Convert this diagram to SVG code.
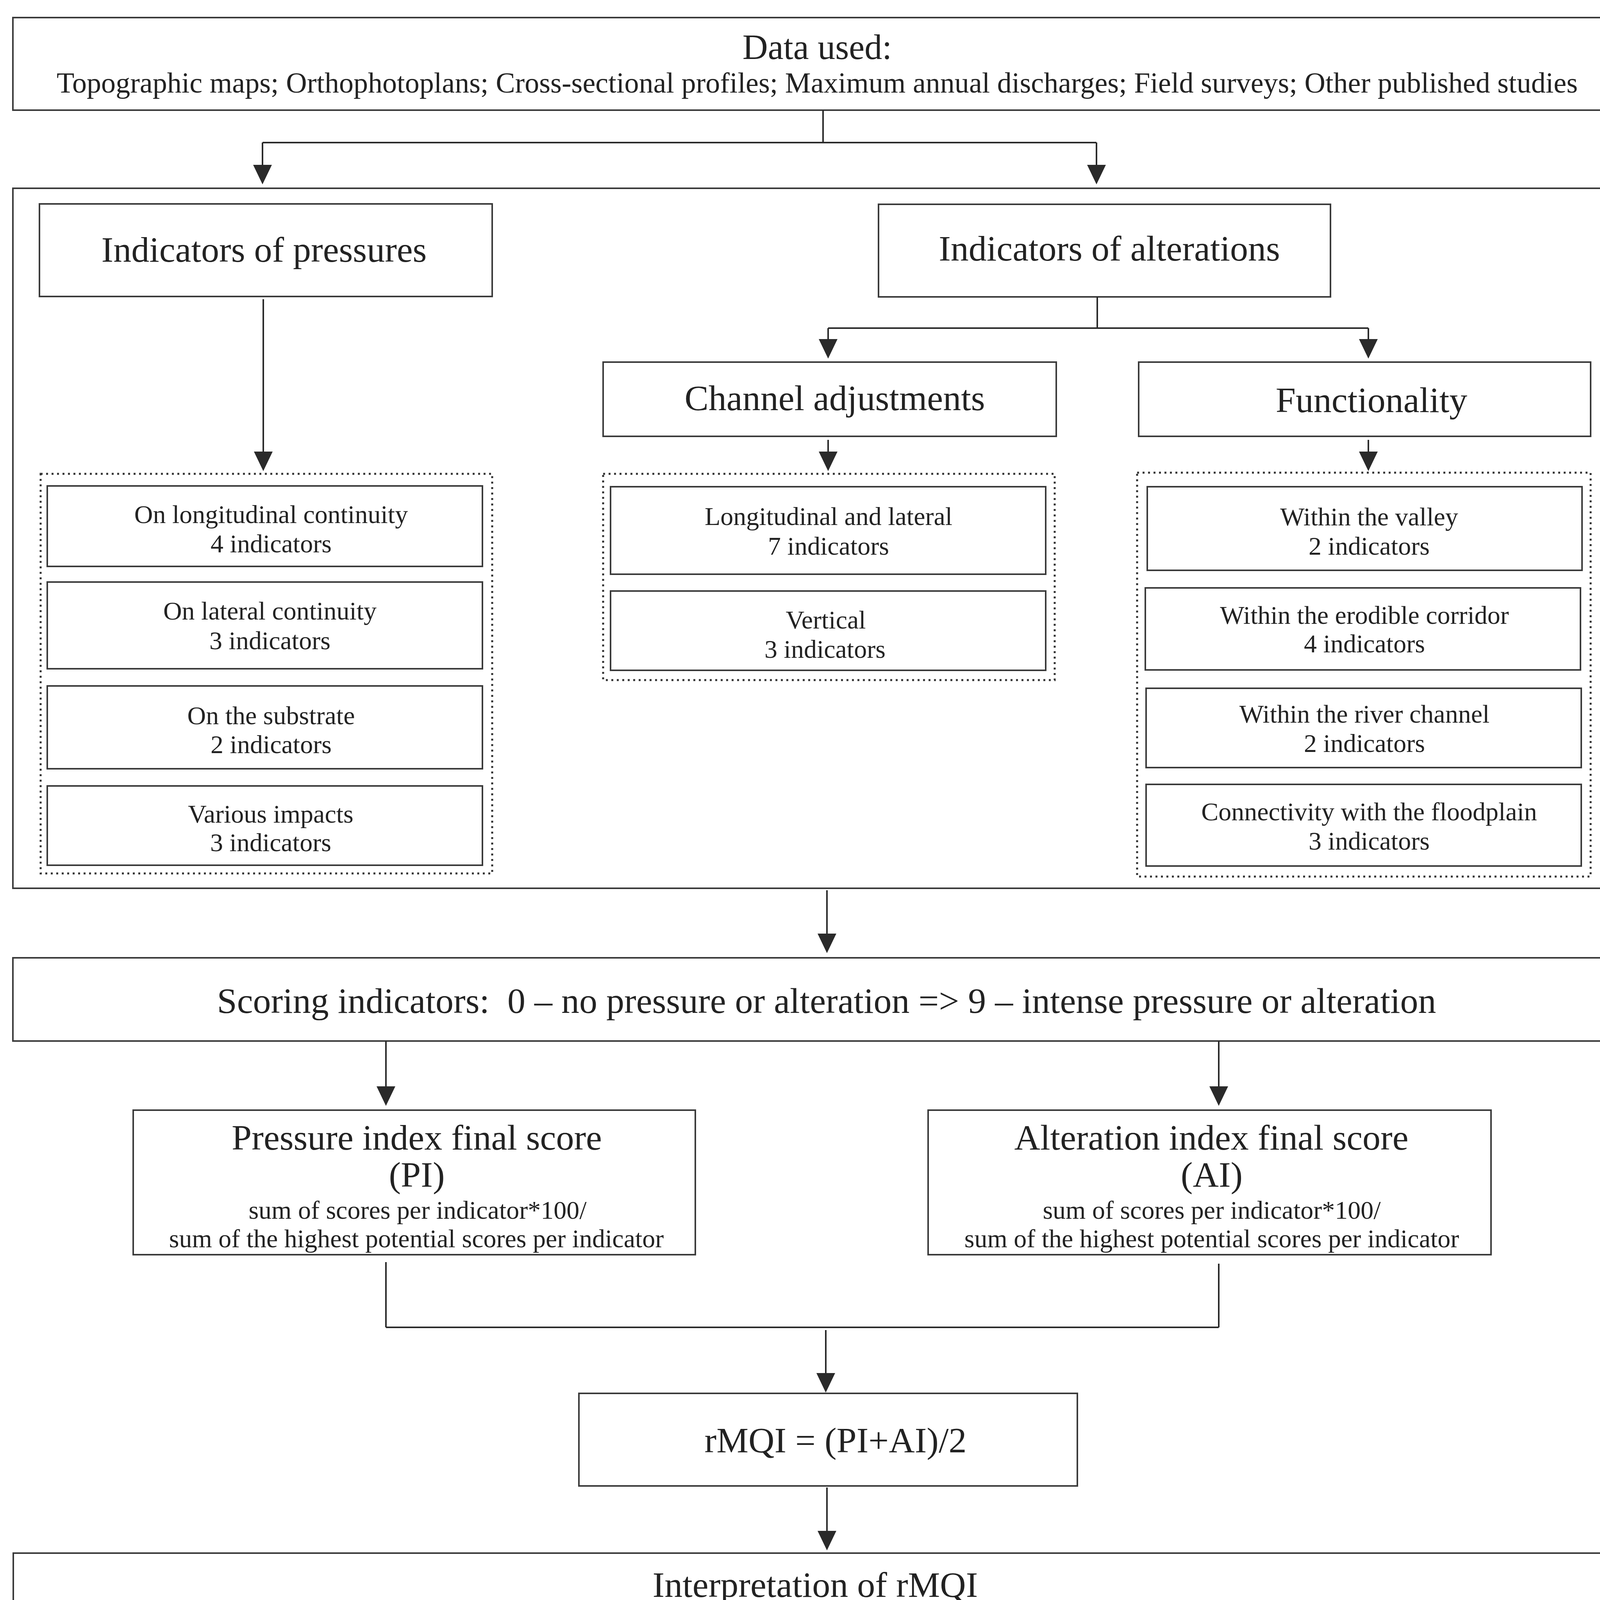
<svg xmlns="http://www.w3.org/2000/svg" width="4153" height="4284" viewBox="0 0 4153 4284">
<style>
.box{fill:#fff;stroke:#3a3a3a;stroke-width:4}
.cont{fill:none;stroke:#3a3a3a;stroke-width:4}
.dot{fill:none;stroke:#333;stroke-width:5;stroke-dasharray:5 9}
.ln{fill:none;stroke:#2a2a2a;stroke-width:4}
.t{font-family:"Liberation Serif","Times New Roman",serif;fill:#222;text-anchor:middle}
.b{font-size:92px}
.m{font-size:74px}
.s{font-size:66px}
</style>
<defs>
<marker id="arr" viewBox="0 0 50 48" markerWidth="50" markerHeight="48" refX="30" refY="24" orient="auto" markerUnits="userSpaceOnUse">
<path d="M0,0 L50,24 L0,48 Z" fill="#2a2a2a"/>
</marker>
</defs>
<rect width="4153" height="4284" fill="#fff"/>

<g id="container">
<rect class="cont" x="33" y="482" width="4094" height="1792"/>
</g>

<g id="data-used">
<rect class="box" x="33" y="45" width="4099" height="237"/>
<text class="t" x="2092" y="151" font-size="90">Data used:</text>
<text class="t m" x="2092" y="237" textLength="3894">Topographic maps; Orthophotoplans; Cross-sectional profiles; Maximum annual discharges; Field surveys; Other published studies</text>
</g>

<g id="pressures">
<rect class="box" x="101" y="522" width="1159" height="237"/>
<text class="t b" x="676" y="670">Indicators of pressures</text>
</g>

<g id="pressures-group">
<rect class="dot" x="104" y="1213" width="1156" height="1023"/>
</g>
<g id="p1">
<rect class="box" x="121" y="1244" width="1114" height="206"/>
<text class="t s" x="694" y="1339">On longitudinal continuity</text>
<text class="t s" x="694" y="1414">4 indicators</text>
</g>
<g id="p2">
<rect class="box" x="121" y="1490" width="1114" height="222"/>
<text class="t s" x="691" y="1586">On lateral continuity</text>
<text class="t s" x="691" y="1662">3 indicators</text>
</g>
<g id="p3">
<rect class="box" x="121" y="1756" width="1114" height="212"/>
<text class="t s" x="694" y="1854">On the substrate</text>
<text class="t s" x="694" y="1928">2 indicators</text>
</g>
<g id="p4">
<rect class="box" x="121" y="2012" width="1114" height="203"/>
<text class="t s" x="693" y="2106">Various impacts</text>
<text class="t s" x="693" y="2179">3 indicators</text>
</g>

<g id="alterations">
<rect class="box" x="2249" y="523" width="1157" height="237"/>
<text class="t b" x="2840" y="667">Indicators of alterations</text>
</g>

<g id="channel">
<rect class="box" x="1544" y="927" width="1160" height="190"/>
<text class="t b" x="2137" y="1050">Channel adjustments</text>
</g>
<g id="channel-group">
<rect class="dot" x="1544" y="1213" width="1156" height="528"/>
</g>
<g id="c1">
<rect class="box" x="1563" y="1246" width="1114" height="224"/>
<text class="t s" x="2121" y="1344">Longitudinal and lateral</text>
<text class="t s" x="2121" y="1420">7 indicators</text>
</g>
<g id="c2">
<rect class="box" x="1563" y="1513" width="1114" height="203"/>
<text class="t s" x="2114" y="1609">Vertical</text>
<text class="t s" x="2112" y="1684">3 indicators</text>
</g>

<g id="functionality">
<rect class="box" x="2915" y="927" width="1157" height="190"/>
<text class="t b" x="3511" y="1055">Functionality</text>
</g>
<g id="functionality-group">
<rect class="dot" x="2911" y="1210" width="1161" height="1034"/>
</g>
<g id="f1">
<rect class="box" x="2937" y="1246" width="1113" height="214"/>
<text class="t s" x="3505" y="1345">Within the valley</text>
<text class="t s" x="3505" y="1420">2 indicators</text>
</g>
<g id="f2">
<rect class="box" x="2932" y="1505" width="1114" height="210"/>
<text class="t s" x="3493" y="1597">Within the erodible corridor</text>
<text class="t s" x="3493" y="1670">4 indicators</text>
</g>
<g id="f3">
<rect class="box" x="2934" y="1762" width="1114" height="203"/>
<text class="t s" x="3493" y="1850">Within the river channel</text>
<text class="t s" x="3493" y="1925">2 indicators</text>
</g>
<g id="f4">
<rect class="box" x="2934" y="2008" width="1114" height="209"/>
<text class="t s" x="3505" y="2100">Connectivity with the floodplain</text>
<text class="t s" x="3505" y="2175">3 indicators</text>
</g>

<g id="scoring">
<rect class="box" x="33" y="2452" width="4094" height="213"/>
<text class="t b" x="2116" y="2593" xml:space="preserve">Scoring indicators:  0 – no pressure or alteration =&gt; 9 – intense pressure or alteration</text>
</g>

<g id="pi">
<rect class="box" x="341" y="2842" width="1439" height="370"/>
<text class="t b" x="1067" y="2943">Pressure index final score</text>
<text class="t b" x="1067" y="3038">(PI)</text>
<text class="t s" x="1069" y="3120">sum of scores per indicator*100/</text>
<text class="t s" x="1066" y="3193">sum of the highest potential scores per indicator</text>
</g>

<g id="ai">
<rect class="box" x="2376" y="2842" width="1441" height="370"/>
<text class="t b" x="3101" y="2943">Alteration index final score</text>
<text class="t b" x="3102" y="3038">(AI)</text>
<text class="t s" x="3102" y="3120">sum of scores per indicator*100/</text>
<text class="t s" x="3102" y="3193">sum of the highest potential scores per indicator</text>
</g>

<g id="rmqi">
<rect class="box" x="1482" y="3567" width="1276" height="237"/>
<text class="t b" x="2139" y="3718">rMQI = (PI+AI)/2</text>
</g>

<g id="interpretation">
<rect class="box" x="34" y="3976" width="4093" height="270"/>
<text class="t b" x="2087" y="4088">Interpretation of rMQI</text>
<text class="t m" x="2087" y="4202" textLength="4051" xml:space="preserve">[0–14%) = very good MQ;  [15–29%) = good MQ; [30–49%) = moderate MQ; [50–69%) = poor MQ; [70–100%] = extremely poor MQ</text>
</g>

<g id="connectors">
<path class="ln" d="M2107,282 V365 M672,365 H2807 M2809,760 V840 M2120,840 H3503 M988,3231 V3398 M3120,3235 V3398 M988,3398 H3120"/>
<line class="ln" x1="672" y1="365" x2="672" y2="452" marker-end="url(#arr)"/>
<line class="ln" x1="2807" y1="365" x2="2807" y2="452" marker-end="url(#arr)"/>
<line class="ln" x1="674" y1="766" x2="674" y2="1186" marker-end="url(#arr)"/>
<line class="ln" x1="2120" y1="840" x2="2120" y2="898" marker-end="url(#arr)"/>
<line class="ln" x1="3503" y1="840" x2="3503" y2="898" marker-end="url(#arr)"/>
<line class="ln" x1="2120" y1="1126" x2="2120" y2="1186" marker-end="url(#arr)"/>
<line class="ln" x1="3503" y1="1126" x2="3503" y2="1186" marker-end="url(#arr)"/>
<line class="ln" x1="2117" y1="2279" x2="2117" y2="2420" marker-end="url(#arr)"/>
<line class="ln" x1="988" y1="2665" x2="988" y2="2811" marker-end="url(#arr)"/>
<line class="ln" x1="3120" y1="2665" x2="3120" y2="2811" marker-end="url(#arr)"/>
<line class="ln" x1="2114" y1="3405" x2="2114" y2="3545" marker-end="url(#arr)"/>
<line class="ln" x1="2117" y1="3808" x2="2117" y2="3949" marker-end="url(#arr)"/>
</g>
</svg>
